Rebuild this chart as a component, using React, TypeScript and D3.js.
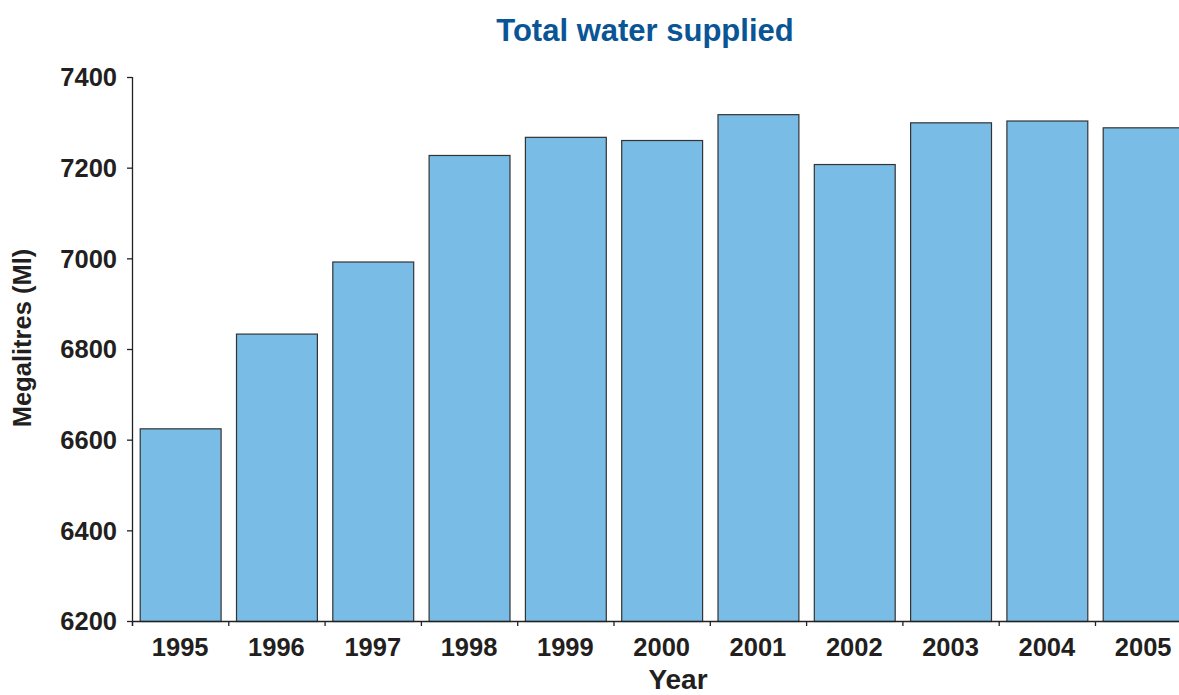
import React, { useEffect, useRef } from 'react';
import * as d3 from 'd3';

const years = ['1995', '1996', '1997', '1998', '1999', '2000', '2001', '2002', '2003', '2004', '2005'];
const supplied = [6625, 6834, 6993, 7228, 7268, 7261, 7318, 7208, 7300, 7304, 7289];
const yTicks = [6200, 6400, 6600, 6800, 7000, 7200, 7400];

const W = 1179;
const H = 695;
const FONT = '"Liberation Sans", Arial, Helvetica, sans-serif';

export default function App() {
    const svgRef = useRef<SVGSVGElement | null>(null);

    useEffect(() => {
        if (!svgRef.current) return;
        const svg = d3.select(svgRef.current);
        svg.selectAll('*').remove();

        // plot area; the last band runs past the right edge like the original
        const left = 132, top = 77, bottom = 621;
        const step = 96.3;

        const x = d3.scaleBand<string>()
            .domain(years)
            .range([left, left + step * years.length])
            .paddingInner(0.16)
            .paddingOuter(0.08);

        const y = d3.scaleLinear().domain([6200, 7400]).range([bottom, top]);

        // title
        svg.append('text')
            .attr('x', 645)
            .attr('y', 41)
            .attr('text-anchor', 'middle')
            .attr('font-family', FONT)
            .attr('font-weight', 'bold')
            .attr('font-size', 31)
            .attr('fill', '#0a5596')
            .text('Total water supplied');

        // bars
        svg.append('g')
            .selectAll('rect')
            .data(years)
            .enter()
            .append('rect')
            .attr('x', d => x(d)! + 0.5)
            .attr('y', (d, i) => y(supplied[i]) + 0.5)
            .attr('width', x.bandwidth())
            .attr('height', (d, i) => bottom - y(supplied[i]))
            .attr('fill', '#79bce6')
            .attr('stroke', '#333')
            .attr('stroke-width', 1.2);

        const axisColor = '#222';

        // y axis
        svg.append('line')
            .attr('x1', left + 0.5).attr('x2', left + 0.5)
            .attr('y1', top).attr('y2', bottom + 5)
            .attr('stroke', axisColor).attr('stroke-width', 1.3);

        const yg = svg.append('g');
        yg.selectAll('line')
            .data(yTicks)
            .enter()
            .append('line')
            .attr('x1', left - 5).attr('x2', left)
            .attr('y1', d => y(d) + 0.5).attr('y2', d => y(d) + 0.5)
            .attr('stroke', axisColor).attr('stroke-width', 1.3);
        yg.selectAll('text')
            .data(yTicks)
            .enter()
            .append('text')
            .attr('x', 117)
            .attr('y', d => y(d))
            .attr('dy', '0.36em')
            .attr('text-anchor', 'end')
            .attr('font-family', FONT)
            .attr('font-weight', 'bold')
            .attr('font-size', 25.5)
            .attr('fill', '#231f20')
            .text(d => String(d));

        // x axis
        svg.append('line')
            .attr('x1', left).attr('x2', W)
            .attr('y1', bottom + 0.5).attr('y2', bottom + 0.5)
            .attr('stroke', axisColor).attr('stroke-width', 1.3);

        const edges = years.map((d, i) => left + step * i);
        svg.append('g')
            .selectAll('line')
            .data(edges)
            .enter()
            .append('line')
            .attr('x1', d => d + 0.5).attr('x2', d => d + 0.5)
            .attr('y1', bottom).attr('y2', bottom + 5)
            .attr('stroke', axisColor).attr('stroke-width', 1.3);

        svg.append('g')
            .selectAll('text')
            .data(years)
            .enter()
            .append('text')
            .attr('x', d => x(d)! + x.bandwidth() / 2)
            .attr('y', 656)
            .attr('text-anchor', 'middle')
            .attr('font-family', FONT)
            .attr('font-weight', 'bold')
            .attr('font-size', 25.5)
            .attr('fill', '#231f20')
            .text(d => d);

        // axis titles
        svg.append('text')
            .attr('x', 678)
            .attr('y', 689)
            .attr('text-anchor', 'middle')
            .attr('font-family', FONT)
            .attr('font-weight', 'bold')
            .attr('font-size', 28)
            .attr('fill', '#231f20')
            .text('Year');

        svg.append('text')
            .attr('transform', 'translate(31,338) rotate(-90)')
            .attr('text-anchor', 'middle')
            .attr('font-family', FONT)
            .attr('font-weight', 'bold')
            .attr('font-size', 25.5)
            .attr('fill', '#231f20')
            .text('Megalitres (Ml)');
    }, []);

    return (
        <div style={{ position: 'fixed', left: 0, top: 0, width: W, height: H, overflow: 'hidden', background: '#fff' }}>
            <svg ref={svgRef} width={W} height={H} style={{ display: 'block' }} />
        </div>
    );
}
